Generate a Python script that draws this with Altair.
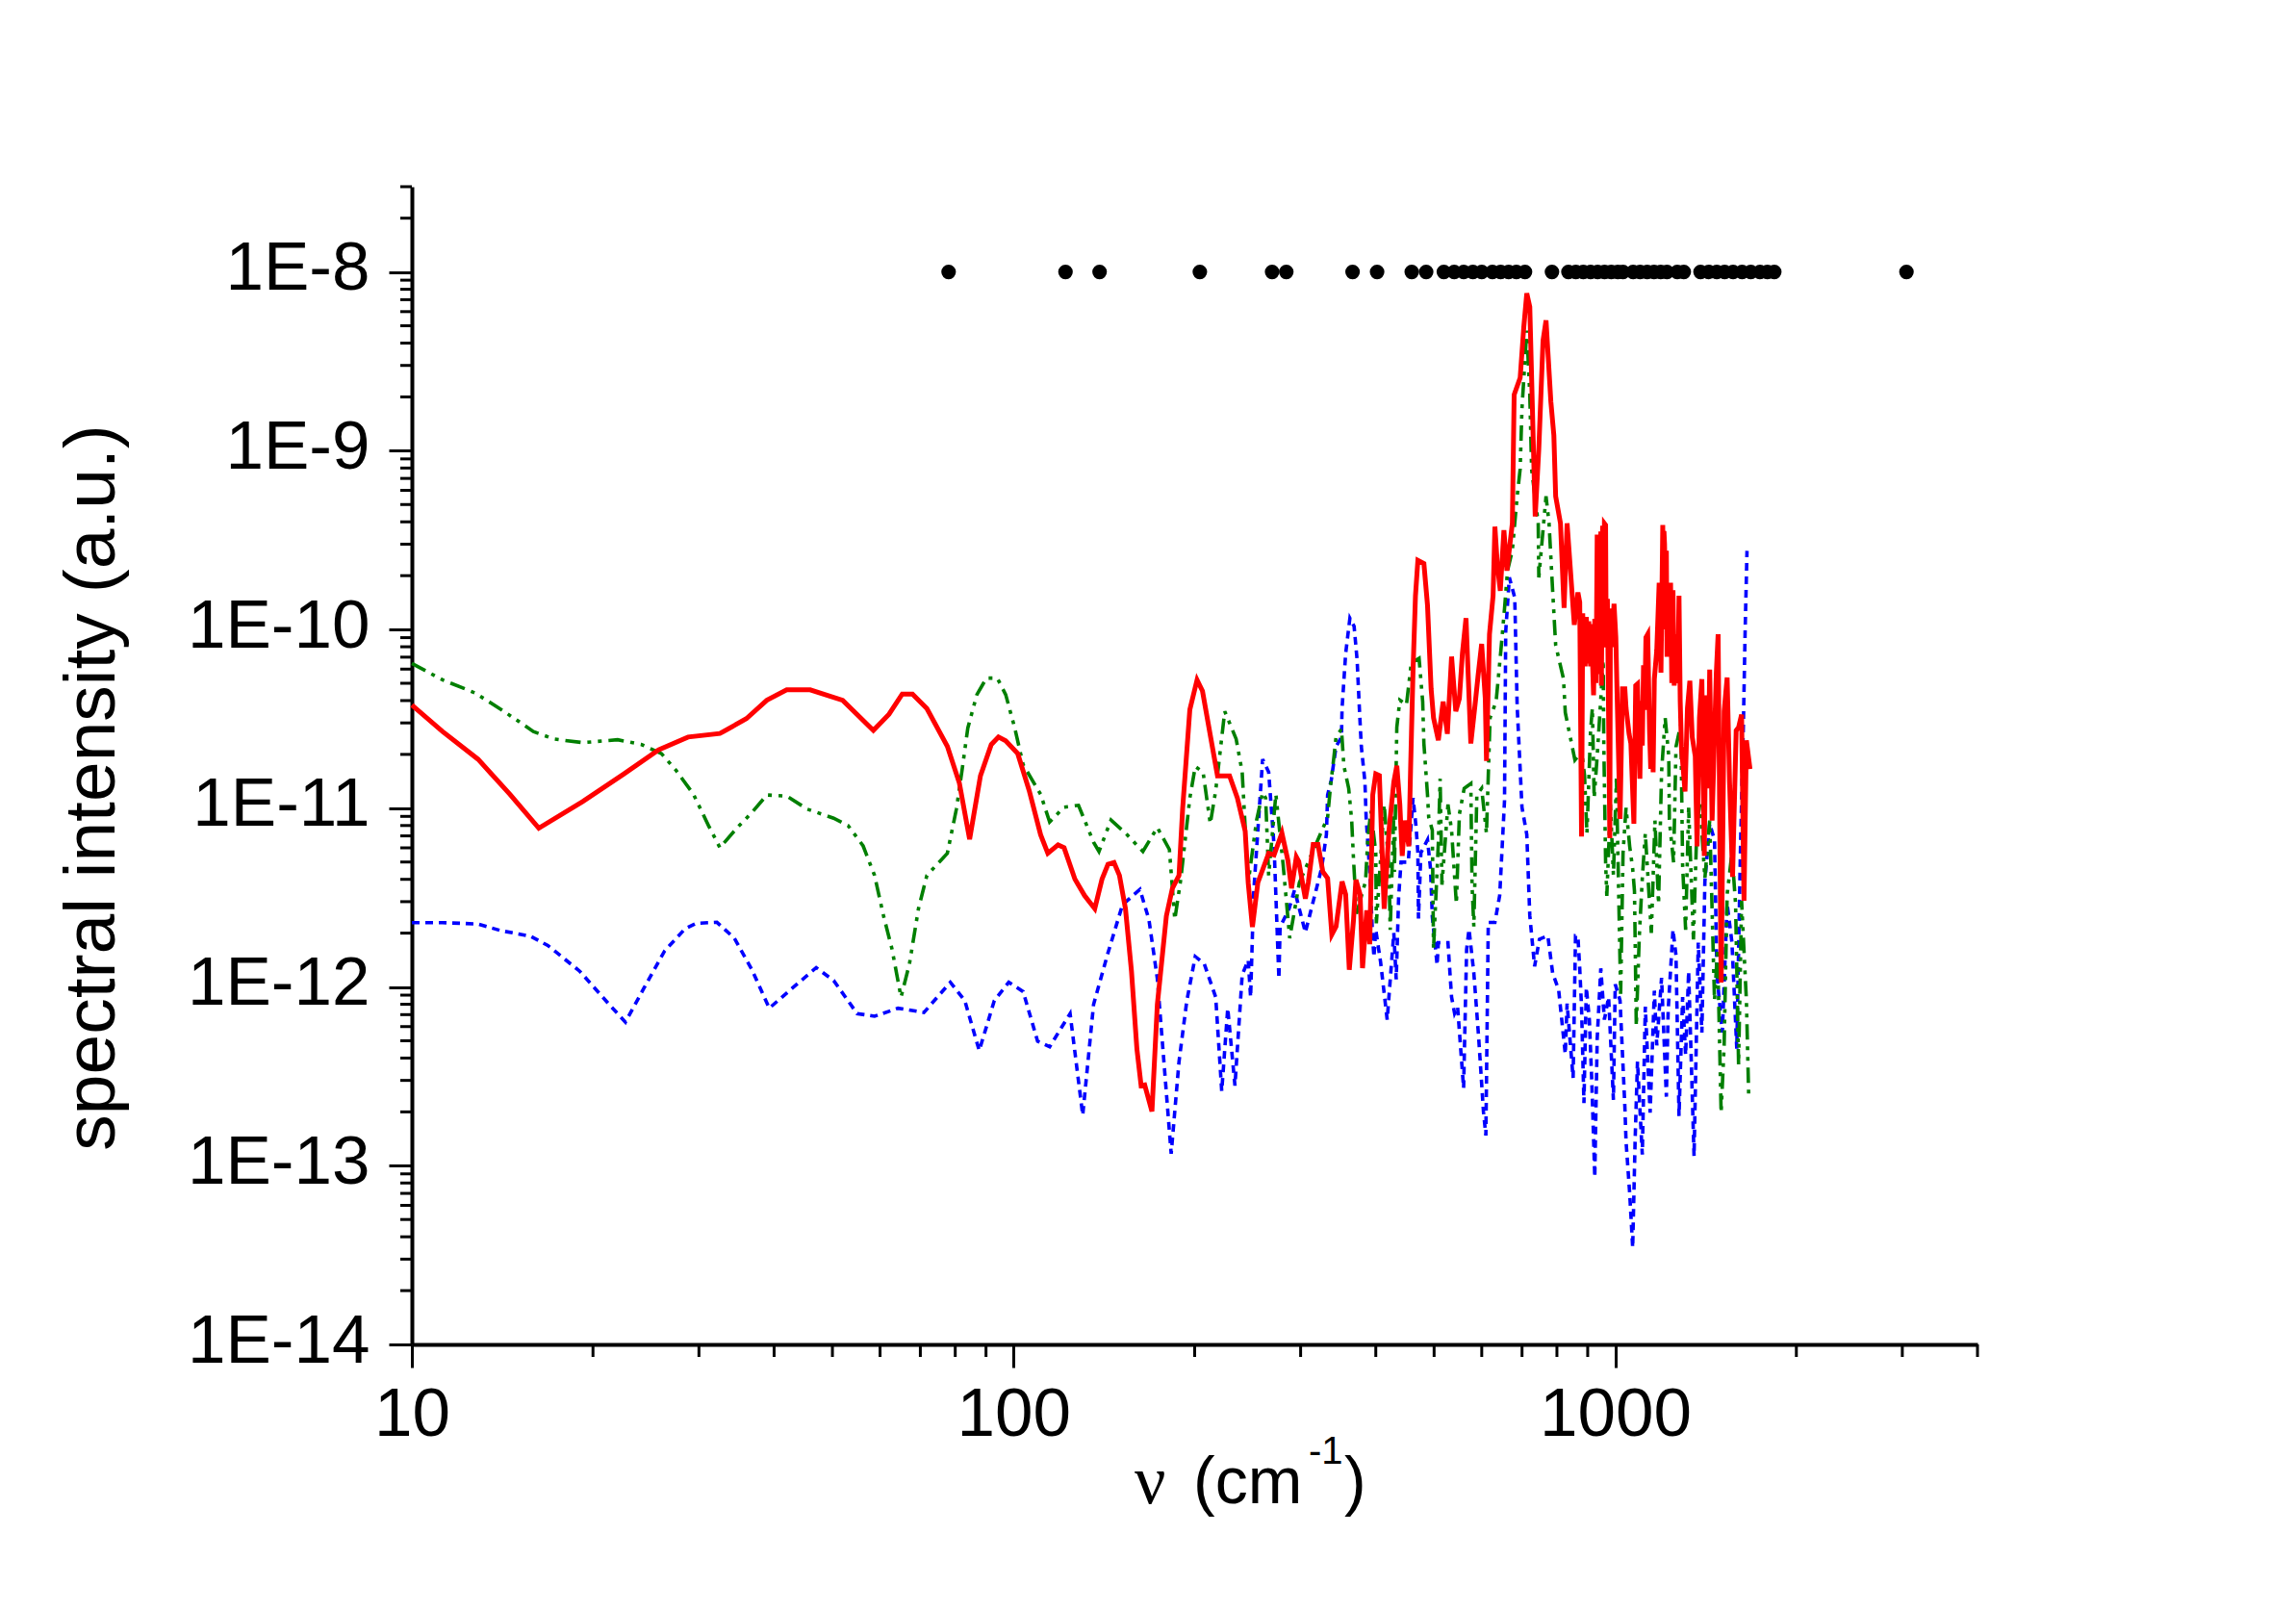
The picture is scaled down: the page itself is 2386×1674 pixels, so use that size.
import altair as alt
import pandas as pd

# log10(wavenumber), log10(intensity)
red = [(1.0,-10.423),(1.051,-10.571),(1.110,-10.726),(1.163,-10.922),(1.211,-11.112),(1.284,-10.963),(1.352,-10.809),(1.410,-10.674),
(1.459,-10.602),(1.512,-10.582),(1.556,-10.499),(1.590,-10.396),(1.623,-10.338),(1.662,-10.338),(1.716,-10.396),(1.767,-10.565),
(1.793,-10.474),(1.815,-10.361),(1.832,-10.361),(1.856,-10.443),(1.890,-10.654),(1.910,-10.860),(1.927,-11.174),(1.945,-10.819),
(1.963,-10.644),(1.975,-10.602),(1.987,-10.623),(2.007,-10.695),(2.026,-10.901),(2.045,-11.149),(2.057,-11.252),(2.074,-11.205),
(2.084,-11.221),(2.102,-11.397),(2.118,-11.489),(2.135,-11.562),(2.147,-11.397),(2.157,-11.314),(2.167,-11.304),(2.176,-11.376),
(2.186,-11.562),(2.196,-11.912),(2.205,-12.346),(2.212,-12.552),(2.218,-12.548),(2.230,-12.696),(2.239,-12.098),(2.254,-11.603),
(2.264,-11.448),(2.275,-11.376),(2.281,-11.005),(2.293,-10.448),(2.305,-10.282),(2.314,-10.344),(2.327,-10.592),(2.339,-10.819),
(2.359,-10.819),(2.372,-10.943),(2.385,-11.128),(2.390,-11.417),(2.397,-11.665),(2.406,-11.417),(2.424,-11.252),(2.433,-11.262),
(2.446,-11.139),(2.456,-11.293),(2.462,-11.448),(2.470,-11.273),(2.474,-11.298),(2.485,-11.506),(2.490,-11.412),(2.498,-11.203),
(2.506,-11.203),(2.514,-11.355),(2.522,-11.392),(2.529,-11.707),(2.536,-11.662),(2.546,-11.410),(2.552,-11.482),(2.558,-11.904),
(2.565,-11.626),(2.569,-11.401),(2.576,-11.482),(2.580,-11.895),(2.587,-11.572),(2.592,-11.761),(2.597,-10.925),(2.602,-10.808),
(2.608,-10.817),(2.616,-11.563),(2.624,-11.123),(2.632,-10.853),(2.637,-10.763),(2.642,-10.979),(2.646,-11.267),(2.650,-11.069),
(2.657,-11.213),(2.660,-10.763),(2.664,-10.224),(2.668,-9.811),(2.672,-9.613),(2.682,-9.631),(2.688,-9.865),(2.694,-10.332),
(2.698,-10.494),(2.706,-10.620),(2.714,-10.404),(2.721,-10.584),(2.728,-10.152),(2.735,-10.458),(2.741,-10.386),(2.746,-10.134),
(2.752,-9.937),(2.760,-10.638),(2.767,-10.422),(2.772,-10.260),(2.778,-10.081),(2.784,-10.386),(2.786,-10.736),(2.791,-10.027),
(2.797,-9.811),(2.800,-9.425),(2.804,-9.633),(2.809,-9.784),(2.815,-9.444),(2.820,-9.671),(2.829,-9.406),(2.832,-8.687),
(2.842,-8.592),(2.848,-8.309),(2.853,-8.119),(2.858,-8.195),(2.867,-9.368),(2.873,-8.990),(2.880,-8.384),(2.885,-8.271),
(2.893,-8.725),(2.898,-8.914),(2.901,-9.255),(2.909,-9.406),(2.915,-9.879),(2.920,-9.406),(2.932,-9.974),(2.938,-9.793),
(2.941,-9.847),(2.944,-11.159),(2.946,-9.910),(2.948,-10.200),(2.949,-9.950),(2.950,-10.206),(2.952,-9.930),(2.954,-10.190),
(2.956,-9.955),(2.959,-10.206),(2.960,-9.970),(2.962,-10.150),(2.964,-10.368),(2.966,-9.940),(2.968,-10.300),(2.969,-9.919),
(2.970,-9.470),(2.972,-10.200),(2.973,-9.470),(2.975,-10.250),(2.976,-9.452),(2.977,-10.314),(2.979,-9.420),(2.980,-10.100),
(2.982,-9.407),(2.984,-9.416),(2.985,-10.099),(2.987,-9.829),(2.991,-11.168),(2.992,-9.883),(2.994,-10.099),(2.998,-9.856),
(3.001,-10.045),(3.003,-10.350),(3.008,-11.060),(3.012,-10.332),(3.016,-10.332),(3.018,-10.440),(3.023,-10.584),(3.026,-10.638),
(3.031,-11.087),(3.034,-10.314),(3.037,-10.305),(3.041,-10.835),(3.043,-10.400),(3.045,-10.650),(3.047,-10.200),(3.049,-10.450),
(3.051,-10.045),(3.054,-10.027),(3.057,-10.566),(3.059,-10.780),(3.061,-10.450),(3.063,-10.799),(3.065,-10.278),(3.069,-10.117),
(3.073,-9.739),(3.076,-10.242),(3.079,-9.416),(3.080,-9.950),(3.081,-9.450),(3.082,-9.524),(3.084,-10.000),(3.085,-9.560),
(3.086,-10.153),(3.088,-9.740),(3.090,-10.150),(3.092,-9.739),(3.094,-10.300),(3.096,-9.780),(3.098,-10.314),(3.101,-10.027),
(3.104,-10.300),(3.106,-9.811),(3.108,-10.400),(3.110,-10.656),(3.116,-10.907),(3.120,-10.440),(3.124,-10.287),(3.128,-10.602),
(3.133,-10.710),(3.136,-11.213),(3.140,-10.494),(3.144,-10.278),(3.148,-11.267),(3.151,-10.368),(3.154,-10.889),(3.157,-10.224),
(3.161,-11.069),(3.168,-10.242),(3.171,-10.027),(3.176,-11.976),(3.181,-10.458),(3.186,-10.269),(3.190,-10.853),(3.195,-11.384),
(3.201,-10.566),(3.205,-10.548),(3.210,-10.476),(3.214,-11.518),(3.218,-10.620),(3.224,-10.781)]

green = [(1.0,-10.190),(1.051,-10.282),(1.105,-10.355),(1.153,-10.458),(1.202,-10.571),(1.236,-10.613),(1.284,-10.633),(1.342,-10.617),
(1.381,-10.643),(1.415,-10.695),(1.439,-10.788),(1.468,-10.922),(1.493,-11.097),(1.512,-11.221),(1.541,-11.108),(1.565,-11.025),
(1.590,-10.926),(1.623,-10.932),(1.657,-11.005),(1.701,-11.056),(1.725,-11.097),(1.750,-11.211),(1.769,-11.376),(1.784,-11.603),
(1.798,-11.788),(1.813,-12.057),(1.827,-11.871),(1.842,-11.562),(1.856,-11.376),(1.890,-11.252),(1.905,-11.005),(1.914,-10.798),
(1.924,-10.551),(1.939,-10.365),(1.955,-10.272),(1.973,-10.272),(1.987,-10.365),(2.002,-10.551),(2.016,-10.757),(2.045,-10.922),
(2.060,-11.077),(2.084,-10.994),(2.108,-10.984),(2.133,-11.190),(2.142,-11.242),(2.162,-11.066),(2.186,-11.139),(2.215,-11.242),
(2.239,-11.108),(2.259,-11.231),(2.268,-11.623),(2.278,-11.396),(2.293,-10.943),(2.302,-10.767),(2.315,-10.798),(2.327,-11.087),
(2.336,-10.901),(2.351,-10.458),(2.370,-10.613),(2.380,-10.798),(2.390,-11.417),(2.404,-11.066),(2.414,-10.912),(2.419,-10.943),
(2.424,-11.376),(2.436,-10.922),(2.448,-11.314),(2.459,-11.727),(2.475,-11.417),(2.522,-11.051),(2.527,-10.871),(2.532,-10.727),
(2.536,-10.602),(2.545,-10.557),(2.549,-10.763),(2.557,-10.889),(2.562,-11.069),(2.565,-11.285),(2.568,-11.464),(2.570,-11.590),
(2.585,-11.410),(2.589,-11.159),(2.594,-11.015),(2.602,-11.249),(2.603,-11.644),(2.616,-10.979),(2.624,-11.338),(2.626,-11.680),
(2.632,-11.033),(2.633,-11.356),(2.637,-10.548),(2.642,-10.395),(2.653,-10.422),(2.661,-10.188),(2.674,-10.161),(2.680,-10.404),
(2.682,-10.638),(2.688,-10.925),(2.690,-11.051),(2.696,-11.123),(2.698,-11.788),(2.706,-11.195),(2.709,-10.835),(2.712,-11.428),
(2.722,-10.979),(2.728,-11.123),(2.736,-11.536),(2.741,-11.033),(2.749,-10.889),(2.760,-10.862),(2.762,-11.428),(2.765,-11.662),
(2.770,-10.925),(2.778,-10.889),(2.786,-11.141),(2.792,-10.494),(2.802,-10.404),(2.810,-10.116),(2.816,-9.883),(2.821,-9.671),
(2.829,-9.557),(2.837,-9.255),(2.842,-9.103),(2.845,-8.763),(2.853,-8.328),(2.858,-8.687),(2.861,-9.103),(2.872,-9.406),
(2.873,-9.709),(2.885,-9.255),(2.890,-9.406),(2.896,-9.784),(2.901,-10.087),(2.914,-10.276),(2.917,-10.465),(2.933,-10.730),
(2.938,-10.710),(2.944,-10.674),(2.949,-10.817),(2.953,-11.141),(2.959,-10.566),(2.962,-10.440),(2.965,-10.943),(2.970,-10.710),
(2.980,-10.171),(2.981,-10.638),(2.984,-11.303),(2.986,-11.491),(2.992,-10.979),(2.997,-11.374),(3.002,-10.835),(3.009,-12.039),
(3.013,-11.249),(3.018,-10.997),(3.024,-11.213),(3.029,-11.339),(3.032,-11.464),(3.035,-12.219),(3.040,-11.716),(3.045,-11.392),
(3.050,-11.141),(3.060,-11.698),(3.066,-11.069),(3.072,-11.536),(3.077,-10.799),(3.083,-10.494),(3.089,-10.710),(3.090,-11.069),
(3.097,-11.303),(3.101,-10.656),(3.109,-10.530),(3.112,-11.321),(3.117,-11.680),(3.122,-10.997),(3.130,-11.734),(3.136,-11.069),
(3.141,-10.979),(3.149,-11.392),(3.157,-11.069),(3.165,-12.075),(3.170,-11.788),(3.176,-12.704),(3.181,-12.327),(3.186,-11.482),
(3.194,-11.249),(3.200,-11.536),(3.205,-12.435),(3.210,-11.518),(3.218,-12.075),(3.222,-12.632)]

blue = [(1.0,-11.640),(1.051,-11.640),(1.110,-11.648),(1.148,-11.685),(1.197,-11.716),(1.226,-11.768),(1.279,-11.912),(1.328,-12.098),
(1.355,-12.197),(1.386,-12.005),(1.420,-11.799),(1.454,-11.675),(1.473,-11.644),(1.507,-11.638),(1.536,-11.727),(1.565,-11.902),
(1.594,-12.119),(1.633,-12.005),(1.672,-11.892),(1.701,-11.964),(1.740,-12.149),(1.769,-12.164),(1.808,-12.119),(1.851,-12.143),
(1.895,-11.974),(1.919,-12.077),(1.943,-12.356),(1.968,-12.077),(1.992,-11.974),(2.016,-12.026),(2.040,-12.304),(2.060,-12.335),
(2.094,-12.149),(2.115,-12.717),(2.133,-12.098),(2.157,-11.809),(2.181,-11.541),(2.210,-11.454),(2.225,-11.623),(2.239,-11.954),
(2.262,-12.933),(2.275,-12.418),(2.288,-12.077),(2.302,-11.830),(2.317,-11.871),(2.336,-12.057),(2.346,-12.583),(2.356,-12.119),
(2.368,-12.552),(2.380,-11.933),(2.390,-11.850),(2.394,-12.057),(2.399,-11.479),(2.414,-10.726),(2.424,-10.798),(2.433,-11.211),
(2.441,-11.954),(2.443,-11.665),(2.458,-11.562),(2.467,-11.458),(2.485,-11.695),(2.512,-11.336),(2.520,-11.147),(2.522,-10.925),
(2.528,-10.844),(2.536,-10.655),(2.545,-10.602),(2.546,-10.440),(2.552,-10.134),(2.559,-9.937),(2.566,-9.982),(2.571,-10.170),
(2.575,-10.458),(2.578,-10.655),(2.584,-10.853),(2.586,-11.051),(2.592,-11.356),(2.597,-11.734),(2.599,-11.833),(2.602,-11.680),
(2.610,-11.860),(2.621,-12.183),(2.632,-11.698),(2.636,-11.958),(2.640,-11.500),(2.644,-11.302),(2.656,-11.302),(2.664,-10.943),
(2.669,-11.105),(2.672,-11.249),(2.673,-11.617),(2.677,-11.249),(2.688,-11.177),(2.693,-11.338),(2.696,-11.608),(2.704,-11.878),
(2.706,-11.752),(2.722,-11.752),(2.728,-12.057),(2.733,-12.147),(2.738,-12.111),(2.748,-12.566),(2.753,-11.790),(2.757,-11.677),
(2.765,-11.922),(2.773,-12.282),(2.781,-12.698),(2.785,-12.831),(2.789,-11.639),(2.800,-11.639),(2.808,-11.487),(2.816,-10.958),
(2.818,-10.011),(2.824,-9.709),(2.833,-9.822),(2.837,-10.428),(2.845,-10.995),(2.853,-11.147),(2.858,-11.601),(2.866,-11.885),
(2.874,-11.733),(2.888,-11.714),(2.896,-11.922),(2.906,-12.017),(2.917,-12.376),(2.920,-12.093),(2.930,-12.509),(2.934,-11.714),
(2.938,-11.716),(2.941,-11.896),(2.944,-12.111),(2.948,-12.650),(2.952,-12.003),(2.957,-12.183),(2.961,-12.524),(2.966,-13.064),
(2.970,-12.291),(2.976,-11.896),(2.982,-12.183),(2.989,-12.057),(2.997,-12.632),(3.000,-11.985),(3.008,-12.075),(3.016,-12.668),
(3.018,-12.866),(3.024,-13.153),(3.029,-13.459),(3.033,-12.866),(3.037,-12.417),(3.045,-12.938),(3.050,-12.111),(3.058,-12.704),
(3.065,-12.021),(3.069,-12.327),(3.077,-11.949),(3.085,-12.614),(3.088,-12.129),(3.096,-11.680),(3.101,-11.824),(3.106,-12.722),
(3.112,-12.057),(3.117,-12.381),(3.122,-11.913),(3.131,-12.947),(3.138,-11.752),(3.144,-12.255),(3.149,-11.410),(3.157,-11.087),
(3.165,-11.177),(3.169,-11.931),(3.178,-12.255),(3.186,-11.536),(3.194,-11.752),(3.202,-12.345),(3.208,-11.249),(3.213,-10.530),
(3.216,-9.991),(3.219,-9.560)]

# vibrational modes drawn as a row of dots at 1E-8
modes = [78, 122, 139, 204, 269, 284, 366, 402, 459, 485, 519, 540, 560, 580, 600, 625, 645, 665, 685, 708,
         785, 836, 860, 885, 910, 935, 960, 985, 1010, 1030, 1071, 1100, 1130, 1160, 1190, 1219, 1268, 1300,
         1386, 1430, 1475, 1520, 1570, 1625, 1680, 1740, 1790, 1838, 3048]
modes_y = 1e-8

x_major = [10, 100, 1000]
x_minor = [20, 30, 40, 50, 60, 70, 80, 90, 200, 300, 400, 500, 600, 700, 800, 900, 2000, 3000, 4000]
y_major = [1e-14, 1e-13, 1e-12, 1e-11, 1e-10, 1e-9, 1e-8]
y_minor = [m * 10.0 ** e for e in range(-14, -8) for m in range(2, 10)] + [2e-8, 3e-8]

W = 1627
H = 1203
FONT = "Liberation Sans"

xs = alt.Scale(type="log", domain=[10, 4000], nice=False)
ys = alt.Scale(type="log", domain=[1e-14, 3e-8], nice=False)

x_axis = alt.Axis(
    values=x_major, title=None, grid=False, format="d",
    tickSize=24, tickWidth=3, tickColor="black",
    domainWidth=4, domainColor="black",
    labelFont=FONT, labelFontSize=71, labelColor="black", labelLimit=400,
    labelPadding=14, labelOverlap=False, labelBound=False, labelFlush=False,
)
y_axis = alt.Axis(
    values=y_major, grid=False,
    labelExpr="'1E-' + round(-log(datum.value) / LN10)",
    tickSize=24, tickWidth=3, tickColor="black",
    domainWidth=4, domainColor="black",
    labelFont=FONT, labelFontSize=71, labelColor="black", labelLimit=400,
    labelPadding=20, labelOverlap=False, labelBound=False, labelOffset=-3,
    title="spectral intensity (a.u.)", titleFont=FONT, titleFontSize=75, titleLimit=1200,
    titleFontWeight="normal", titleColor="black", titleAngle=270,
    titleX=-310, titleY=624, titleAlign="center", titleBaseline="alphabetic",
)


def frame(points):
    return pd.DataFrame({
        "nu": [10 ** p[0] for p in points],
        "i": [10 ** p[1] for p in points],
        "idx": list(range(len(points))),
    })


def line(points, **kw):
    return alt.Chart(frame(points)).mark_line(clip=False, **kw).encode(
        x=alt.X("nu:Q", scale=xs, axis=x_axis),
        y=alt.Y("i:Q", scale=ys, axis=y_axis),
        order="idx:Q",
    )


dots = alt.Chart(pd.DataFrame({"nu": modes, "i": [modes_y] * len(modes)})).mark_point(
    filled=True, color="black", size=230, opacity=1
).encode(
    x=alt.X("nu:Q", scale=xs, axis=x_axis),
    y=alt.Y("i:Q", scale=ys, axis=y_axis),
)

x_small = alt.Chart(pd.DataFrame({"v": x_minor})).mark_rule(color="black", strokeWidth=3).encode(
    x=alt.X("v:Q", scale=xs, axis=x_axis),
    y=alt.value(H),
    y2=alt.value(H + 13),
)
y_small = alt.Chart(pd.DataFrame({"v": y_minor})).mark_rule(color="black", strokeWidth=3).encode(
    y=alt.Y("v:Q", scale=ys, axis=y_axis),
    x=alt.value(-12),
    x2=alt.value(0),
)


def label(text, px, py, size, font=FONT):
    return alt.Chart(pd.DataFrame({"a": [0]})).mark_text(
        text=text, font=font, fontSize=size, color="black", align="left", baseline="alphabetic"
    ).encode(x=alt.value(px), y=alt.value(py))


chart = alt.layer(
    dots,
    x_small,
    y_small,
    line(blue, color="#0000ff", strokeWidth=3.6, strokeDash=[8, 6]),
    line(green, color="#007f00", strokeWidth=3.6, strokeDash=[16, 7, 4, 7, 4, 7]),
    line(red, color="#ff0000", strokeWidth=5),
    label("ν", 751, 1368, 72, "Liberation Serif"),
    label("(cm", 812, 1368, 68),
    label("-1", 932, 1327, 40),
    label(")", 969, 1368, 68),
).properties(
    width=W,
    height=H,
    padding={"left": 420, "top": 186, "right": 300, "bottom": 250},
    autosize=alt.AutoSizeParams(type="none"),
).configure_view(stroke=None)

chart.save("out.html", embed_options={"renderer": "svg", "actions": False})
